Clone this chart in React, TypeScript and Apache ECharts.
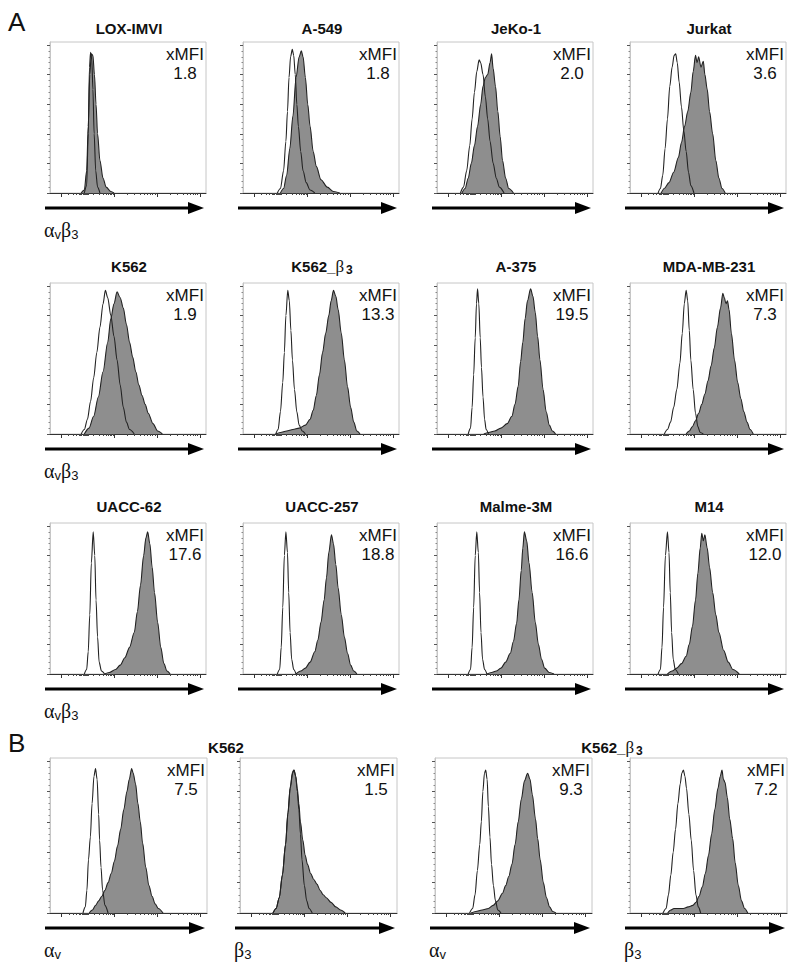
import React, { useEffect, useRef } from 'react';
import * as echarts from 'echarts';

type Pt = [number, number];

// ---------- panel texts ----------
const titlesA = ['LOX-IMVI', 'A-549', 'JeKo-1', 'Jurkat', 'K562', 'K562_β3', 'A-375', 'MDA-MB-231', 'UACC-62', 'UACC-257', 'Malme-3M', 'M14'];
const xmfiA = ['1.8', '1.8', '2.0', '3.6', '1.9', '13.3', '19.5', '7.3', '17.6', '18.8', '16.6', '12.0'];
const xmfiB = ['7.5', '1.5', '9.3', '7.2'];
const markerB = ['av', 'b3', 'av', 'b3'];
const titlesB = ['K562', 'K562_β3'];

// ---------- axis ticks (x: % of display width, y: % of mode) ----------
const X_MAJOR = [7, 41, 68.5, 96];
const X_MINOR = [12, 15, 17, 18.5, 19.5, 20.3, 21, 21.6, 22.2, 22.7, 23.2, 23.7, 24.2, 28, 31.5, 34, 35.8, 37.3, 38.5, 39.5, 40.3, 49.3, 54.1, 57.6, 60.2, 62.4, 64.2, 65.8, 67.2, 76.8, 81.6, 85.1, 87.7, 89.9, 91.7, 93.3, 94.7];
const Y_MAJOR = [0, 20, 40, 60, 80, 100];
const Y_MINOR = [4, 8, 12, 16, 24, 28, 32, 36, 44, 48, 52, 56, 64, 68, 72, 76, 84, 88, 92, 96];

// ---------- histograms: [x %, count % of mode] ----------
const loxOpen: Pt[] = [[22, 0], [23.5, 5], [24.5, 40], [25.3, 85], [26, 95], [26.8, 90], [27.5, 70], [28.3, 40], [29.3, 15], [30.5, 4], [32, 0]];
const loxFill: Pt[] = [[20, 0], [22, 2], [23.5, 15], [24.5, 45], [25.5, 80], [26.5, 94], [27.5, 93], [28.5, 80], [29.5, 60], [30.5, 40], [32, 22], [34, 10], [36, 4], [39, 1], [41, 0]];

const a549Open: Pt[] = [[22, 0], [24, 3], [26, 15], [27.5, 35], [28.5, 55], [29.5, 78], [30.5, 92], [31.6, 97], [32.5, 93], [33.5, 80], [34.5, 60], [35.5, 45], [37, 28], [38.5, 15], [40.5, 7], [43, 2], [46, 0]];
const a549Fill: Pt[] = [[24, 0], [26, 3], [28, 12], [30, 30], [32, 52], [34, 78], [36, 92], [37.4, 96], [38.5, 92], [40, 78], [41.5, 60], [43, 45], [45, 28], [47, 18], [50, 9], [54, 4], [58, 1], [62, 0]];

const jekoOpen: Pt[] = [[15, 0], [17, 4], [19, 15], [21, 32], [22.5, 50], [24, 68], [25.5, 82], [27, 90], [28, 88], [29.5, 80], [31, 65], [32.5, 50], [34, 35], [36, 20], [38, 10], [40, 4], [43, 0]];
const jekoFill: Pt[] = [[16, 0], [18, 3], [20, 10], [22, 20], [24, 32], [26, 45], [28, 60], [29.5, 72], [31, 78], [32.5, 80], [34, 88], [35, 94], [36, 84], [37.5, 72], [39, 55], [40.5, 38], [42, 22], [44, 10], [46, 3], [49, 0]];

const jurkatOpen: Pt[] = [[18, 0], [19.5, 3], [21, 12], [22.5, 30], [24, 50], [25.5, 72], [27, 85], [28.3, 93], [29.3, 94], [30.3, 88], [31.5, 75], [33, 58], [34.5, 42], [36, 28], [37.5, 14], [39, 5], [41, 0]];
const jurkatFill: Pt[] = [[20, 0], [22, 3], [25, 7], [28, 14], [31, 24], [33, 34], [35, 45], [37, 55], [39, 68], [40.5, 82], [42, 93], [43, 88], [44, 92], [45.5, 85], [47, 89], [48, 80], [49.5, 70], [51, 55], [53, 40], [55, 22], [57, 10], [59, 3], [61, 0]];

const k562Open: Pt[] = [[20, 0], [22, 3], [24, 10], [26, 22], [28, 38], [30, 55], [32, 72], [34, 88], [35.5, 97], [37, 92], [39, 80], [41, 66], [43, 50], [45, 33], [47, 18], [49, 8], [51, 3], [54, 0]];
const k562Fill: Pt[] = [[22, 0], [25, 4], [28, 12], [31, 25], [34, 42], [37, 62], [39, 78], [41, 88], [43, 96], [45, 92], [47, 85], [49, 74], [51, 62], [53, 52], [55, 42], [57, 33], [59, 26], [61, 20], [63, 14], [66, 7], [69, 2], [72, 0]];

const k562b3Open: Pt[] = [[21, 0], [22.5, 3], [24, 15], [25.5, 35], [26.5, 55], [27.5, 80], [28.7, 97], [29.7, 90], [30.7, 70], [31.7, 50], [33, 30], [34.5, 15], [36, 6], [38, 2], [40, 0]];
const k562b3Fill: Pt[] = [[21, 0], [24, 1], [28, 2], [32, 3], [36, 4], [40, 6], [43, 10], [45, 16], [47, 26], [49, 40], [51, 55], [53, 68], [55, 80], [56.5, 90], [58, 97], [59.5, 93], [61, 84], [63, 68], [65, 50], [67, 32], [69, 18], [71, 8], [73, 2], [75, 0]];

const a375Open: Pt[] = [[20, 0], [21.5, 4], [22.5, 18], [23.5, 40], [24.5, 65], [25.3, 88], [26, 98], [26.8, 88], [27.7, 65], [28.5, 45], [29.5, 25], [30.5, 10], [31.5, 3], [33, 0]];
const a375Fill: Pt[] = [[30, 0], [33, 1], [37, 2], [41, 4], [45, 7], [48, 12], [50, 20], [52, 32], [53.6, 49], [55, 62], [56.5, 78], [58, 90], [60, 98], [61.5, 93], [63, 82], [64.5, 66], [66, 50], [68, 30], [70, 15], [72, 6], [74, 2], [76, 0]];

const mdaOpen: Pt[] = [[22, 0], [24, 3], [26, 8], [28, 18], [30, 30], [32, 48], [33.5, 68], [34.8, 88], [36, 97], [37, 90], [38, 70], [39, 50], [40.5, 30], [42, 14], [43.5, 5], [45, 1], [47, 0]];
const mdaFill: Pt[] = [[36, 0], [38, 2], [40, 5], [42, 9], [44, 14], [46, 20], [48, 27], [50, 36], [52, 46], [54, 58], [56, 72], [58, 85], [59.5, 95], [60.5, 92], [61.5, 88], [62.5, 90], [63.5, 84], [65, 68], [67, 50], [69, 35], [71, 24], [73, 15], [75, 8], [77, 3], [79, 0]];

const uacc62Open: Pt[] = [[22, 0], [23.5, 3], [24.5, 15], [25.5, 40], [26.5, 75], [27.7, 96], [28.7, 80], [29.5, 50], [30.5, 25], [31.5, 8], [33, 2], [35, 0]];
const uacc62Fill: Pt[] = [[35, 0], [38, 1], [42, 3], [45, 6], [48, 11], [51, 18], [54, 28], [56, 42], [58, 60], [60, 80], [61.5, 92], [62.6, 96], [64, 88], [65.5, 72], [67, 55], [69, 35], [71, 18], [73, 7], [75, 2], [77, 0]];

const uacc257Open: Pt[] = [[22, 0], [23.5, 3], [24.5, 18], [25.5, 45], [26.5, 80], [27.5, 96], [28.5, 82], [29.3, 55], [30.2, 28], [31.2, 10], [32.5, 3], [34, 0]];
const uacc257Fill: Pt[] = [[34, 0], [37, 2], [40, 4], [43, 8], [46, 15], [48, 23], [50, 35], [52, 50], [53.5, 65], [55, 82], [56.7, 94], [58, 88], [59.5, 74], [61, 58], [63, 40], [65, 25], [67, 14], [69, 6], [71, 2], [73, 0]];

const malmeOpen: Pt[] = [[20, 0], [21.5, 3], [22.5, 18], [23.5, 45], [24.5, 80], [25.5, 96], [26.5, 82], [27.3, 55], [28.2, 28], [29.2, 10], [30.5, 3], [32, 0]];
const malmeFill: Pt[] = [[32, 0], [35, 1], [38, 2], [41, 4], [44, 8], [47, 14], [49, 22], [51, 34], [52.5, 50], [54, 70], [55, 85], [56, 96], [57.5, 90], [59, 75], [61, 55], [63, 35], [65, 20], [67, 10], [69, 4], [72, 1], [75, 0]];

const m14Open: Pt[] = [[18, 0], [19.5, 3], [20.5, 18], [21.5, 45], [22.7, 80], [24, 96], [25, 82], [25.8, 55], [26.7, 28], [27.7, 10], [29, 3], [31, 0]];
const m14Fill: Pt[] = [[24, 0], [27, 2], [30, 4], [33, 7], [36, 12], [38, 20], [40, 32], [42, 50], [43.5, 68], [45, 85], [46, 95], [47, 90], [48, 94], [49.5, 85], [51, 72], [53, 55], [55, 40], [57, 28], [60, 16], [63, 8], [66, 3], [70, 0]];

// panel B
const bK562avOpen: Pt[] = [[21, 0], [22.5, 4], [23.5, 15], [24.5, 35], [25.7, 50], [26.8, 72], [28, 90], [29, 95], [30, 88], [31, 65], [31.6, 48], [32.5, 30], [33.5, 15], [35, 5], [37, 0]];
const bK562avFill: Pt[] = [[25, 0], [27, 2], [29, 5], [31, 8], [33, 11], [35, 15], [37, 20], [39, 26], [41, 34], [43, 44], [45, 55], [47, 68], [49, 80], [50.5, 88], [52, 95], [53, 92], [54.5, 85], [56, 72], [57.5, 60], [59, 46], [61, 30], [63, 18], [65, 11], [67, 6], [69, 3], [72, 0]];

const bK562b3Open: Pt[] = [[21, 0], [23, 3], [25, 10], [27, 25], [29, 45], [30.5, 65], [32, 82], [33.5, 92], [34.4, 94], [35.5, 90], [36.5, 80], [37.5, 68], [38.5, 52], [39.5, 35], [41, 18], [42.5, 8], [44, 3], [46, 0]];
const bK562b3Fill: Pt[] = [[21, 0], [23, 3], [25, 10], [27, 25], [29, 45], [30.5, 66], [32, 83], [33.5, 93], [34.4, 94], [35.5, 90], [36.5, 82], [37.5, 72], [38.5, 60], [40, 48], [41.5, 38], [43, 32], [45, 26], [47, 22], [49, 19], [51, 15], [53, 12], [55, 10], [58, 7], [61, 4], [64, 2], [67, 0]];

const bK562b3avOpen: Pt[] = [[22, 0], [24, 3], [25.5, 12], [27, 28], [28.5, 45], [29.5, 60], [30.5, 80], [31.5, 92], [32.3, 94], [33.2, 88], [34, 70], [35, 50], [36, 32], [37.2, 18], [38.5, 8], [40, 2], [42, 0]];
const bK562b3avFill: Pt[] = [[23, 0], [26, 1], [30, 2], [34, 3], [37, 5], [40, 8], [43, 13], [45, 18], [47, 24], [49, 32], [51, 45], [53, 60], [55, 75], [57, 87], [59, 92], [60.5, 88], [62, 78], [64, 62], [65.4, 49], [67, 35], [69, 20], [71, 10], [73, 4], [75, 1], [77, 0]];

const bK562b3b3Open: Pt[] = [[21, 0], [23, 3], [24.5, 12], [26, 25], [27.5, 40], [29, 55], [30.5, 72], [32, 85], [33, 92], [34, 94], [35, 90], [36, 82], [37.5, 65], [39, 48], [40.5, 28], [42, 12], [43.5, 4], [45, 0]];
const bK562b3b3Fill: Pt[] = [[24, 0], [26, 2], [28, 3], [31, 3], [34, 3], [37, 4], [40, 5], [42, 7], [44, 11], [46, 17], [48, 26], [50, 38], [52, 52], [54, 68], [56, 82], [57.5, 90], [58.6, 94], [59.5, 88], [60.5, 86], [62, 76], [63.5, 62], [65.4, 49], [67, 33], [69, 18], [71, 8], [73, 3], [75, 0]];

const openA = [loxOpen, a549Open, jekoOpen, jurkatOpen, k562Open, k562b3Open, a375Open, mdaOpen, uacc62Open, uacc257Open, malmeOpen, m14Open];
const fillA = [loxFill, a549Fill, jekoFill, jurkatFill, k562Fill, k562b3Fill, a375Fill, mdaFill, uacc62Fill, uacc257Fill, malmeFill, m14Fill];
const openB = [bK562avOpen, bK562b3Open, bK562b3avOpen, bK562b3b3Open];
const fillB = [bK562avFill, bK562b3Fill, bK562b3avFill, bK562b3b3Fill];

const SANS = 'Liberation Sans, Arial, sans-serif';
const SERIF = 'Liberation Serif, Times New Roman, serif';

const markerRich = {
  g: { fontFamily: SERIF, fontSize: 20, fill: '#111', lineHeight: 22, verticalAlign: 'middle' as const },
  s: { fontFamily: SANS, fontSize: 13, fill: '#111', lineHeight: 22, verticalAlign: 'bottom' as const, padding: [7, 0, 0, 0] },
};

const titleRich = {
  b: { fontFamily: SANS, fontWeight: 'bold' as const, fontSize: 15, fill: '#111', lineHeight: 19 },
  g: { fontFamily: SERIF, fontSize: 17, fill: '#111', lineHeight: 19 },
  s: { fontFamily: SANS, fontWeight: 'bold' as const, fontSize: 12, fill: '#111', lineHeight: 19, verticalAlign: 'bottom' as const, padding: [6, 0, 0, 2] },
};

function markerText(kind: string): string {
  if (kind === 'avb3') return '{g|α}{s|v}{g|β}{s|3}';
  if (kind === 'av') return '{g|α}{s|v}';
  return '{g|β}{s|3}';
}

function titleText(t: string): string {
  return t.endsWith('_β3') ? '{b|' + t.slice(0, -2) + '}{g|β}{s|3}' : '{b|' + t + '}';
}

export default function App() {
  const ref = useRef<HTMLDivElement>(null);
  useEffect(() => {
    document.body.style.margin = '0';
    const chart = echarts.init(ref.current!, null, { renderer: 'svg' });

    const grids: any[] = [];
    const xAxes: any[] = [];
    const yAxes: any[] = [];
    const series: any[] = [];
    const graphics: any[] = [];

    type Panel = { left: number; top: number; w: number; h: number; fill: Pt[]; open: Pt[]; xmfi: string; marker: string };
    const panels: Panel[] = [];
    const colA = [50, 243, 437, 630];
    const rowA = [42, 283, 523];
    const titleYA = [28, 266, 506];
    for (let r = 0; r < 3; r++) {
      for (let c = 0; c < 4; c++) {
        const i = r * 4 + c;
        panels.push({ left: colA[c], top: rowA[r], w: 156, h: 151, fill: fillA[i], open: openA[i], xmfi: xmfiA[i], marker: c === 0 ? 'avb3' : '' });
        graphics.push({
          type: 'text', x: colA[c] + 79, y: titleYA[r],
          style: { text: titleText(titlesA[i]), align: 'center', verticalAlign: 'middle', rich: titleRich },
        });
      }
    }
    const colB = [50, 240, 435, 630];
    for (let c = 0; c < 4; c++) {
      panels.push({ left: colB[c], top: 758, w: 157, h: 155, fill: fillB[c], open: openB[c], xmfi: xmfiB[c], marker: markerB[c] });
    }
    graphics.push({ type: 'text', x: 226, y: 747, style: { text: titleText(titlesB[0]), align: 'center', verticalAlign: 'middle', rich: titleRich } });
    graphics.push({ type: 'text', x: 612, y: 747, style: { text: titleText(titlesB[1]), align: 'center', verticalAlign: 'middle', rich: titleRich } });

    panels.forEach((p, k) => {
      grids.push({ left: p.left, top: p.top, width: p.w, height: p.h, show: true, borderColor: '#c6c6c6', borderWidth: 1, backgroundColor: 'transparent' });
      xAxes.push({
        gridIndex: k, type: 'value', min: 0, max: 100, position: 'bottom',
        axisLine: { show: true, lineStyle: { color: '#333', width: 1 } },
        axisTick: { show: true, customValues: X_MAJOR, length: 4, lineStyle: { color: '#333' } },
        axisLabel: { show: false }, splitLine: { show: false },
      });
      xAxes.push({
        gridIndex: k, type: 'value', min: 0, max: 100, position: 'bottom',
        axisLine: { show: false },
        axisTick: { show: true, customValues: X_MINOR, length: 2, lineStyle: { color: '#444' } },
        axisLabel: { show: false }, splitLine: { show: false },
      });
      yAxes.push({
        gridIndex: k, type: 'value', min: 0, max: 102, position: 'left',
        axisLine: { show: true, lineStyle: { color: '#c6c6c6' } },
        axisTick: { show: true, customValues: Y_MAJOR, length: 3, lineStyle: { color: '#555' } },
        axisLabel: { show: false }, splitLine: { show: false },
      });
      yAxes.push({
        gridIndex: k, type: 'value', min: 0, max: 102, position: 'left',
        axisLine: { show: false },
        axisTick: { show: true, customValues: Y_MINOR, length: 1.5, lineStyle: { color: '#888' } },
        axisLabel: { show: false }, splitLine: { show: false },
      });
      series.push({
        type: 'line', xAxisIndex: 2 * k, yAxisIndex: 2 * k, data: p.fill, smooth: 0.3, smoothMonotone: 'x',
        showSymbol: false, symbol: 'none', silent: true, z: 2,
        lineStyle: { color: '#222', width: 1.1 }, areaStyle: { color: '#8e8e8e', opacity: 1 },
      });
      series.push({
        type: 'line', xAxisIndex: 2 * k, yAxisIndex: 2 * k, data: p.open, smooth: 0.3, smoothMonotone: 'x',
        showSymbol: false, symbol: 'none', silent: true, z: 3,
        lineStyle: { color: '#222', width: 1.1 },
      });
      const cx = p.left + p.w - 21;
      graphics.push({ type: 'text', x: cx, y: p.top + 12, style: { text: 'xMFI', align: 'center', verticalAlign: 'middle', fontFamily: SANS, fontSize: 17, fill: '#111' } });
      graphics.push({ type: 'text', x: cx, y: p.top + 31, style: { text: p.xmfi, align: 'center', verticalAlign: 'middle', fontFamily: SANS, fontSize: 17, fill: '#111' } });
      // arrow below the axis
      const ay = p.top + p.h + 15;
      const tip = p.left + p.w - 2;
      graphics.push({ type: 'line', shape: { x1: p.left - 5, y1: ay, x2: tip - 12, y2: ay }, style: { stroke: '#000', lineWidth: 3 } });
      graphics.push({ type: 'polygon', shape: { points: [[tip - 16, ay - 6], [tip, ay], [tip - 16, ay + 6]] }, style: { fill: '#000' } });
      if (p.marker) {
        graphics.push({
          type: 'text', x: p.left - 6, y: p.top + p.h + 37,
          style: { text: markerText(p.marker), align: 'left', verticalAlign: 'middle', rich: markerRich },
        });
      }
    });

    graphics.push({ type: 'text', x: 8, y: 22, style: { text: 'A', verticalAlign: 'middle', fontFamily: SANS, fontSize: 26, fill: '#111' } });
    graphics.push({ type: 'text', x: 8, y: 743, style: { text: 'B', verticalAlign: 'middle', fontFamily: SANS, fontSize: 26, fill: '#111' } });

    chart.setOption({
      animation: false,
      backgroundColor: '#fff',
      grid: grids,
      xAxis: xAxes,
      yAxis: yAxes,
      series,
      graphic: graphics,
    });
    return () => chart.dispose();
  }, []);
  return <div ref={ref} style={{ width: 800, height: 965 }} />;
}
